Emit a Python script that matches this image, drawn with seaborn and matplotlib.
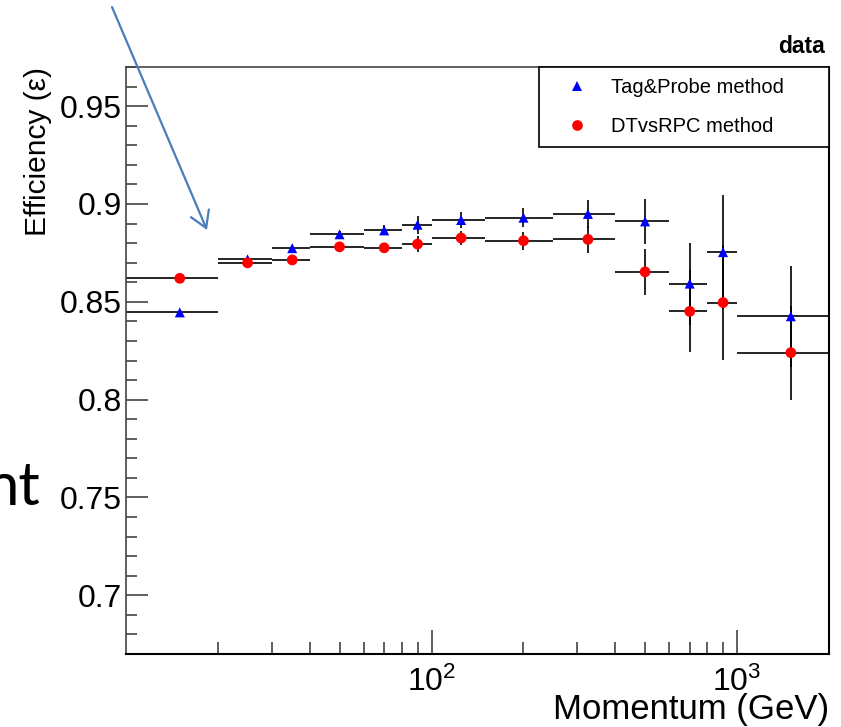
import numpy as np
import pandas as pd
import matplotlib
matplotlib.use("Agg")
import matplotlib.pyplot as plt
import seaborn as sns
from matplotlib.lines import Line2D
from matplotlib.patches import FancyArrowPatch
from matplotlib.ticker import FixedLocator, LogLocator, MultipleLocator, NullFormatter, FuncFormatter

# Momentum bins (GeV): lower edge, upper edge and bin centre
bin_low = [10, 20, 30, 40, 60, 80, 100, 150, 250, 400, 600, 800, 1000]
bin_high = [20, 30, 40, 60, 80, 100, 150, 250, 400, 600, 800, 1000, 2000]
momentum = [15, 25, 35, 50, 70, 90, 125, 200, 325, 500, 700, 900, 1500]

# Efficiency per bin for the two methods, with statistical uncertainties
eff_tagprobe = [0.8446, 0.8717, 0.8774, 0.8845, 0.8865, 0.8894, 0.8918,
                0.8930, 0.8949, 0.8911, 0.8593, 0.8754, 0.8426]
err_tagprobe = [0.0010, 0.0010, 0.0015, 0.0015, 0.0025, 0.0045, 0.0040,
                0.0048, 0.0072, 0.0115, 0.0210, 0.0290, 0.0258]
eff_dtrpc = [0.8620, 0.8699, 0.8714, 0.8781, 0.8776, 0.8795, 0.8826,
             0.8812, 0.8819, 0.8653, 0.8451, 0.8496, 0.8240]
err_dtrpc = [0.0010, 0.0010, 0.0015, 0.0015, 0.0025, 0.0040, 0.0035,
             0.0045, 0.0068, 0.0118, 0.0210, 0.0295, 0.0240]

methods = ["Tag&Probe method", "DTvsRPC method"]
y_ticks = [0.7, 0.75, 0.8, 0.85, 0.9, 0.95]
x_ticks = [100, 1000]

sns.set_theme(style="white")
plt.rcParams["font.family"] = ["Liberation Sans", "DejaVu Sans"]
plt.rcParams["mathtext.fontset"] = "custom"
plt.rcParams["mathtext.rm"] = "Liberation Sans"
plt.rcParams["mathtext.it"] = "Liberation Sans:italic"
plt.rcParams["mathtext.bf"] = "Liberation Sans:bold"
plt.rcParams["text.color"] = "black"
plt.rcParams["axes.labelcolor"] = "black"
plt.rcParams["xtick.color"] = "black"
plt.rcParams["ytick.color"] = "black"

df = pd.DataFrame({
    "momentum": momentum * 2,
    "efficiency": eff_tagprobe + eff_dtrpc,
    "method": [methods[0]] * len(momentum) + [methods[1]] * len(momentum),
})

W, H = 841, 727
fig = plt.figure(figsize=(W / 100, H / 100), dpi=100)
ax = fig.add_axes([126 / W, 73 / H, 703 / W, 587 / H])

# Bin-width horizontal bars and vertical uncertainty bars
mom = np.array(momentum, dtype=float)
xerr = [mom - np.array(bin_low), np.array(bin_high) - mom]
for eff, err in [(eff_tagprobe, err_tagprobe), (eff_dtrpc, err_dtrpc)]:
    ax.errorbar(momentum, eff, xerr=xerr, yerr=err, fmt="none",
                ecolor="black", elinewidth=1.2, capsize=0, zorder=2)

palette = {methods[0]: "#0000ff", methods[1]: "#ff0000"}
markers = {methods[0]: "^", methods[1]: "o"}
sizes = {methods[0]: 52, methods[1]: 60}
sns.scatterplot(data=df, x="momentum", y="efficiency", hue="method",
                style="method", size="method", palette=palette,
                markers=markers, sizes=sizes, linewidth=0, legend=False,
                ax=ax, zorder=3)

ax.set_xscale("log")
ax.set_xlim(10, 2000)
ax.set_ylim(0.67, 0.97)

ax.xaxis.set_major_locator(FixedLocator(x_ticks))
ax.xaxis.set_minor_locator(LogLocator(base=10, subs=np.arange(2, 10), numticks=20))
ax.xaxis.set_minor_formatter(NullFormatter())
ax.xaxis.set_major_formatter(FuncFormatter(lambda v, p: r"$\mathdefault{10^{%d}}$" % round(np.log10(v))))
ax.yaxis.set_major_locator(FixedLocator(y_ticks))
ax.yaxis.set_minor_locator(MultipleLocator(0.01))
ax.yaxis.set_major_formatter(FuncFormatter(lambda v, p: "%g" % v))

ax.tick_params(axis="both", which="both", direction="in", color="#333333",
               labelcolor="black", width=1.1, top=False, right=False,
               bottom=True, left=True)
ax.tick_params(axis="x", which="major", length=17, labelsize=23, pad=9)
ax.tick_params(axis="x", which="minor", length=8.5)
ax.tick_params(axis="y", which="major", length=16, labelsize=23, pad=3)
ax.tick_params(axis="y", which="minor", length=8)

for side in ["left", "top"]:
    ax.spines[side].set_color("#444444")
    ax.spines[side].set_linewidth(1.2)
for side in ["right", "bottom"]:
    ax.spines[side].set_color("black")
    ax.spines[side].set_linewidth(1.5)

ax.set_xlabel("Momentum (GeV)", loc="right", fontsize=25)
ax.xaxis.set_label_coords(1.0, -0.066)
ax.set_ylabel("Efficiency (\u03b5)", loc="top", fontsize=21.5)
ax.yaxis.set_label_coords(-0.105, 1.0)

handles = [
    Line2D([], [], linestyle="none", marker="^", color="#0000ff", markersize=7.2, markeredgewidth=0),
    Line2D([], [], linestyle="none", marker="o", color="#ff0000", markersize=7.7, markeredgewidth=0),
]
leg = ax.legend(handles, methods, loc="upper left", mode="expand",
                bbox_to_anchor=(0.5875, 0.0, 0.4125, 1.0), fontsize=14.5,
                frameon=True, fancybox=False, framealpha=1, edgecolor="black",
                borderpad=0.55, labelspacing=1.0, handlelength=2.7,
                handletextpad=0.3, borderaxespad=0)
leg.get_frame().set_linewidth(1.2)
for t in leg.get_texts():
    t.set_color("black")

fig.text(825 / W, 1 - 53 / H, "data", ha="right", va="baseline",
         fontsize=16.5, fontweight="bold", color="black")

fig.text(40 / W, 1 - 505 / H, "nt", ha="right", va="baseline",
         fontsize=43, family=["Lato", "DejaVu Sans"], color="black")

arrow = FancyArrowPatch((112 / W, 1 - 7 / H), (207 / W, 1 - 230 / H),
                        transform=fig.transFigure,
                        arrowstyle="->,head_length=11.5,head_width=7",
                        mutation_scale=1, color="#4a7ebb", linewidth=1.6,
                        shrinkA=0, shrinkB=0, zorder=10)
fig.add_artist(arrow)

fig.savefig("out.png", dpi=100)
